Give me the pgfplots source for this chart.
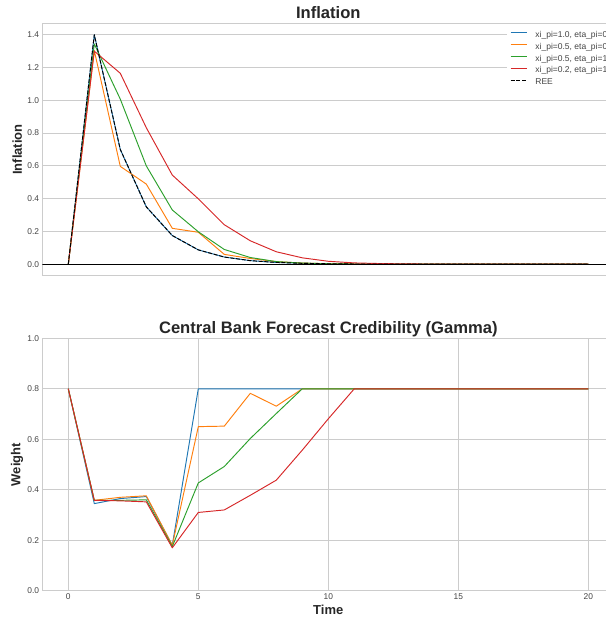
\documentclass[border=0pt]{standalone}
\usepackage{pgfplots}
\pgfplotsset{compat=1.18}
\usepackage{fontspec}
\setmainfont{Liberation Sans}

\definecolor{tabblue}{HTML}{1F77B4}
\definecolor{taborange}{HTML}{FF7F0E}
\definecolor{tabgreen}{HTML}{2CA02C}
\definecolor{tabred}{HTML}{D62728}
\definecolor{gridgray}{HTML}{CCCCCC}
\definecolor{textdark}{HTML}{262626}
\definecolor{ticktext}{HTML}{444444}

% Inflation paths (t = 0..20)
\pgfplotstableread{
t   ree     a       b       c       d
0   0       0       0       0       0
1   1.400   1.400   1.303   1.344   1.300
2   0.700   0.700   0.597   1.007   1.165
3   0.350   0.350   0.489   0.600   0.833
4   0.175   0.175   0.219   0.331   0.544
5   0.0875  0.0875  0.195   0.198   0.399
6   0.0438  0.0438  0.060   0.090   0.241
7   0.0219  0.0219  0.035   0.041   0.143
8   0.0109  0.0109  0.016   0.016   0.076
9   0.0055  0.0055  0.007   0.007   0.039
10  0.0027  0.0027  0.003   0.003   0.018
11  0.0014  0.0014  0.0015  0.001   0.008
12  0.0007  0.0007  0.0007  0.0005  0.004
13  0.0003  0.0003  0.0003  0.0002  0.002
14  0.0002  0.0002  0.0001  0.0001  0.001
15  0.0001  0.0001  0       0       0.0005
16  0       0       0       0       0.0002
17  0       0       0       0       0.0001
18  0       0       0       0       0
19  0       0       0       0       0
20  0       0       0       0       0
}\inflation

% Credibility weight gamma (t = 0..20)
\pgfplotstableread{
t   a       b       c       d
0   0.800   0.800   0.800   0.800
1   0.345   0.358   0.358   0.358
2   0.365   0.370   0.358   0.356
3   0.373   0.376   0.360   0.352
4   0.180   0.180   0.175   0.170
5   0.800   0.650   0.427   0.310
6   0.800   0.652   0.492   0.320
7   0.800   0.782   0.603   0.378
8   0.800   0.731   0.702   0.438
9   0.800   0.800   0.800   0.557
10  0.800   0.800   0.800   0.681
11  0.800   0.800   0.800   0.800
12  0.800   0.800   0.800   0.800
13  0.800   0.800   0.800   0.800
14  0.800   0.800   0.800   0.800
15  0.800   0.800   0.800   0.800
16  0.800   0.800   0.800   0.800
17  0.800   0.800   0.800   0.800
18  0.800   0.800   0.800   0.800
19  0.800   0.800   0.800   0.800
20  0.800   0.800   0.800   0.800
}\gammaw

\pgfplotsset{
  every axis title/.style={at={(0.5,1)}, anchor=base, yshift=5pt},
  panel/.style={
    scale only axis,
    width=572pt, height=252.4pt,
    xmin=-1, xmax=21,
    axis line style={gridgray, line width=0.9pt},
    grid style={gridgray, line width=0.9pt},
    major tick length=0pt,
    tick label style={font=\fontsize{8.4}{10}\selectfont, text=ticktext},
    /pgf/number format/assume math mode=true,
    /pgf/number format/fixed, /pgf/number format/fixed zerofill,
    /pgf/number format/precision=1,
    yticklabel style={inner sep=0pt, xshift=-3pt},
    xticklabel style={inner sep=0pt, yshift=-2.5pt},
    label style={font=\fontsize{13}{15}\selectfont\bfseries, text=textdark},
    title style={font=\fontsize{16.6}{19}\selectfont\bfseries, text=textdark},
    every axis plot/.append style={line width=0.95pt, line join=round},
    clip=true,
  },
}

\begin{document}
\begin{tikzpicture}
\useasboundingbox (0,0) rectangle (605pt,621pt);

% Upper panel: inflation responses
\begin{axis}[panel,
  at={(42.3pt,345.3pt)}, anchor=south west,
  ymin=-0.07, ymax=1.47,
  ytick={0,0.2,...,1.4},
  xtick=\empty,
  ymajorgrids=true, xmajorgrids=false,
  title={Inflation},
  ylabel={Inflation},
  ylabel style={at={(axis description cs:-0.044,0.5)}, anchor=center},
  legend cell align=left,
  legend style={at={(axis description cs:0.8124,0.979)}, anchor=north west,
    draw=none, fill=white, font=\fontsize{8.5}{10}\selectfont, text=ticktext,
    inner xsep=3pt, inner ysep=2pt,
    nodes={inner sep=0pt, text height=6.5pt, text depth=2pt},
    column sep=7.6pt, row sep=3.4pt},
  legend image code/.code={\draw[#1] (0pt,2.25pt) -- (16.7pt,2.25pt);},
]
\addplot[tabblue] table[x=t, y=a] {\inflation};
\addlegendentry{xi\_pi=1.0, eta\_pi=0.5}
\addplot[taborange] table[x=t, y=b] {\inflation};
\addlegendentry{xi\_pi=0.5, eta\_pi=0.5}
\addplot[tabgreen] table[x=t, y=c] {\inflation};
\addlegendentry{xi\_pi=0.5, eta\_pi=1.0}
\addplot[tabred] table[x=t, y=d] {\inflation};
\addlegendentry{xi\_pi=0.2, eta\_pi=1.0}
\addplot[black, dash pattern=on 4pt off 1.7pt] table[x=t, y=ree] {\inflation};
\addlegendentry{REE}
\addplot[black, line width=0.9pt, forget plot] coordinates {(-1,0) (21,0)};
\end{axis}

% Lower panel: credibility weight
\begin{axis}[panel,
  at={(42.3pt,30.3pt)}, anchor=south west,
  ymin=0, ymax=1,
  ytick={0,0.2,...,1.0},
  xtick={0,5,10,15,20},
  xticklabel style={/pgf/number format/precision=0, /pgf/number format/fixed zerofill=false},
  ymajorgrids=true, xmajorgrids=true,
  title={Central Bank Forecast Credibility (Gamma)},
  ylabel={Weight},
  ylabel style={at={(axis description cs:-0.044,0.5)}, anchor=center},
  xlabel={Time},
  xlabel style={at={(axis description cs:0.5,0)}, anchor=center, yshift=-19.5pt},
]
\addplot[tabblue] table[x=t, y=a] {\gammaw};
\addplot[taborange] table[x=t, y=b] {\gammaw};
\addplot[tabgreen] table[x=t, y=c] {\gammaw};
\addplot[tabred] table[x=t, y=d] {\gammaw};
\end{axis}
\end{tikzpicture}
\end{document}
